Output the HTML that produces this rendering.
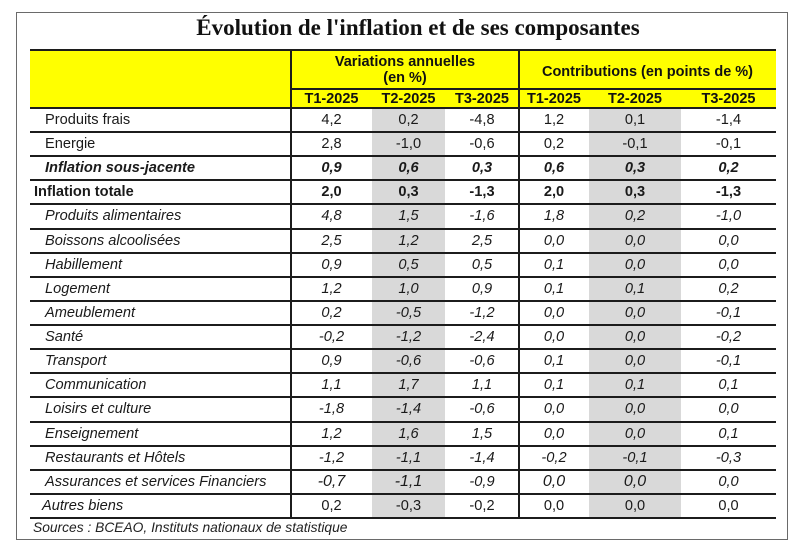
<!DOCTYPE html>
<html><head><meta charset="utf-8">
<style>
html,body{margin:0;padding:0;background:#fff;}
body{width:800px;height:550px;position:relative;overflow:hidden;font-family:"Liberation Sans",Arial,sans-serif;color:#1a1a1a;}
.abs{position:absolute;}
.box{left:16px;top:12px;width:772px;height:528px;border:1px solid #6a6a6a;box-sizing:border-box;}
.title{left:0;width:836px;top:13px;text-align:center;font-family:"Liberation Serif","Times New Roman",serif;font-weight:bold;font-size:23px;line-height:30px;color:#111;}
.yellow{left:30px;top:51px;width:746px;height:57px;background:#ffff00;}
.gray{background:#d9d9d9;top:109px;height:409px;}
.hl{left:30px;width:746px;height:2px;background:#1c1c1c;}
.vl{width:2px;background:#1c1c1c;top:50px;height:469px;}
.hdr{font-weight:bold;font-size:14.5px;text-align:center;color:#111;line-height:16px;}
.row{position:absolute;left:30px;width:746px;height:24px;line-height:24px;display:grid;grid-template-columns:261px 81px 73px 74px 70px 92px 95px;font-size:14.6px;}
.row div{text-align:center;white-space:nowrap;}
.row div.lab{text-align:left;padding-left:15px;}
.it{font-style:italic;}
.bi{font-style:italic;font-weight:bold;}
.b{font-weight:bold;}
.big{font-size:16px;}
.src{left:33px;top:518px;font-style:italic;font-size:13.8px;line-height:20px;color:#222;}
</style></head><body>
<div class="abs box"></div>
<div class="abs title">Évolution de l'inflation et de ses composantes</div>
<div class="abs yellow"></div>
<div class="abs gray" style="left:372px;width:73px;"></div>
<div class="abs gray" style="left:589px;width:92px;"></div>

<div class="abs hdr" style="left:291px;width:228px;top:54px;">Variations annuelles<br>(en %)</div>
<div class="abs hdr" style="left:519px;width:257px;top:64px;">Contributions (en points de %)</div>
<div class="abs hdr" style="left:291px;width:81px;top:91px;">T1-2025</div>
<div class="abs hdr" style="left:372px;width:73px;top:91px;">T2-2025</div>
<div class="abs hdr" style="left:445px;width:74px;top:91px;">T3-2025</div>
<div class="abs hdr" style="left:519px;width:70px;top:91px;">T1-2025</div>
<div class="abs hdr" style="left:589px;width:92px;top:91px;">T2-2025</div>
<div class="abs hdr" style="left:681px;width:95px;top:91px;">T3-2025</div>

<div class="abs hl" style="top:49px;"></div>
<div class="abs" style="left:291px;width:485px;top:88px;height:2px;background:#1c1c1c;"></div>
<div class="abs hl" style="top:107px;"></div>
<div class="abs hl" style="top:131px;"></div>
<div class="abs hl" style="top:155px;"></div>
<div class="abs hl" style="top:179px;"></div>
<div class="abs hl" style="top:203px;"></div>
<div class="abs hl" style="top:228px;"></div>
<div class="abs hl" style="top:252px;"></div>
<div class="abs hl" style="top:276px;"></div>
<div class="abs hl" style="top:300px;"></div>
<div class="abs hl" style="top:324px;"></div>
<div class="abs hl" style="top:348px;"></div>
<div class="abs hl" style="top:372px;"></div>
<div class="abs hl" style="top:396px;"></div>
<div class="abs hl" style="top:421px;"></div>
<div class="abs hl" style="top:445px;"></div>
<div class="abs hl" style="top:469px;"></div>
<div class="abs hl" style="top:493px;"></div>
<div class="abs hl" style="top:517px;"></div>
<div class="abs vl" style="left:290px;"></div>
<div class="abs vl" style="left:518px;"></div>

<div class="row" style="top:108px;"><div class="lab">Produits frais</div><div>4,2</div><div>0,2</div><div>-4,8</div><div>1,2</div><div>0,1</div><div>-1,4</div></div>
<div class="row" style="top:132px;"><div class="lab">Energie</div><div>2,8</div><div>-1,0</div><div>-0,6</div><div>0,2</div><div>-0,1</div><div>-0,1</div></div>
<div class="row bi" style="top:156px;"><div class="lab">Inflation sous-jacente</div><div>0,9</div><div>0,6</div><div>0,3</div><div>0,6</div><div>0,3</div><div>0,2</div></div>
<div class="row b" style="top:180px;"><div class="lab" style="padding-left:4px;">Inflation totale</div><div>2,0</div><div>0,3</div><div>-1,3</div><div>2,0</div><div>0,3</div><div>-1,3</div></div>
<div class="row it" style="top:204px;"><div class="lab">Produits alimentaires</div><div>4,8</div><div>1,5</div><div>-1,6</div><div>1,8</div><div>0,2</div><div>-1,0</div></div>
<div class="row it" style="top:229px;"><div class="lab">Boissons alcoolisées</div><div>2,5</div><div>1,2</div><div>2,5</div><div>0,0</div><div>0,0</div><div>0,0</div></div>
<div class="row it" style="top:253px;"><div class="lab">Habillement</div><div>0,9</div><div>0,5</div><div>0,5</div><div>0,1</div><div>0,0</div><div>0,0</div></div>
<div class="row it" style="top:277px;"><div class="lab">Logement</div><div>1,2</div><div>1,0</div><div>0,9</div><div>0,1</div><div>0,1</div><div>0,2</div></div>
<div class="row it" style="top:301px;"><div class="lab">Ameublement</div><div>0,2</div><div>-0,5</div><div>-1,2</div><div>0,0</div><div>0,0</div><div>-0,1</div></div>
<div class="row it" style="top:325px;"><div class="lab">Santé</div><div>-0,2</div><div>-1,2</div><div>-2,4</div><div>0,0</div><div>0,0</div><div>-0,2</div></div>
<div class="row it" style="top:349px;"><div class="lab">Transport</div><div>0,9</div><div>-0,6</div><div>-0,6</div><div>0,1</div><div>0,0</div><div>-0,1</div></div>
<div class="row it" style="top:373px;"><div class="lab">Communication</div><div>1,1</div><div>1,7</div><div>1,1</div><div>0,1</div><div>0,1</div><div>0,1</div></div>
<div class="row it" style="top:397px;"><div class="lab">Loisirs et culture</div><div>-1,8</div><div>-1,4</div><div>-0,6</div><div>0,0</div><div>0,0</div><div>0,0</div></div>
<div class="row it" style="top:422px;"><div class="lab">Enseignement</div><div>1,2</div><div>1,6</div><div>1,5</div><div>0,0</div><div>0,0</div><div>0,1</div></div>
<div class="row it" style="top:446px;"><div class="lab">Restaurants et Hôtels</div><div>-1,2</div><div>-1,1</div><div>-1,4</div><div>-0,2</div><div>-0,1</div><div>-0,3</div></div>
<div class="row it" style="top:470px;"><div class="lab">Assurances et services Financiers</div><div class="big">-0,7</div><div class="big">-1,1</div><div>-0,9</div><div class="big">0,0</div><div class="big">0,0</div><div>0,0</div></div>
<div class="row" style="top:494px;"><div class="lab" style="padding-left:12px;font-style:italic;">Autres biens</div><div>0,2</div><div>-0,3</div><div>-0,2</div><div>0,0</div><div>0,0</div><div>0,0</div></div>

<div class="abs src">Sources : BCEAO, Instituts nationaux de statistique</div>
</body></html>
